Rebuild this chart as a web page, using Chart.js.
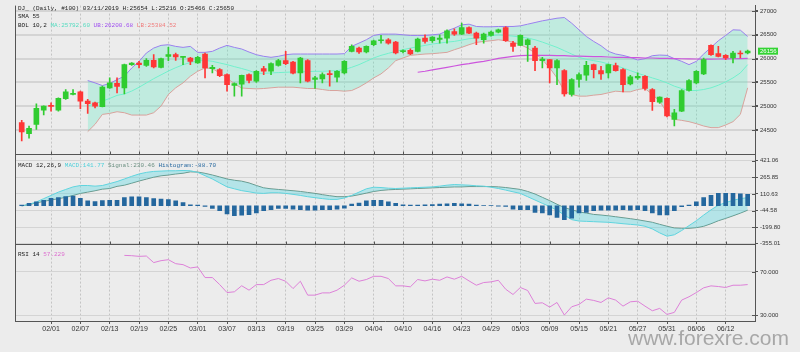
<!DOCTYPE html>
<html>
<head>
<meta charset="utf-8">
<script src="https://cdn.jsdelivr.net/npm/chart.js@4.4.1/dist/chart.umd.min.js"></script>
<style>
html, body { margin: 0; padding: 0; background: #ececec; }
canvas { display: block; }
</style>
</head>
<body>
<canvas id="chart" width="800" height="352"></canvas>
<script>
const dates = ["01/28","01/29","01/30","01/31","02/01","02/04","02/05","02/06","02/07","02/08",
    "02/11","02/12","02/13","02/14","02/15","02/18","02/19","02/20","02/21","02/22",
    "02/25","02/26","02/27","02/28","03/01","03/04","03/05","03/06","03/07","03/08",
    "03/11","03/12","03/13","03/14","03/15","03/18","03/19","03/20","03/21","03/22",
    "03/25","03/26","03/27","03/28","03/29","04/01","04/02","04/03","04/04","04/05",
    "04/08","04/09","04/10","04/11","04/12","04/15","04/16","04/17","04/18","04/22",
    "04/23","04/24","04/25","04/26","04/29","04/30","05/01","05/02","05/03","05/06",
    "05/07","05/08","05/09","05/10","05/13","05/14","05/15","05/16","05/17","05/20",
    "05/21","05/22","05/23","05/24","05/27","05/28","05/29","05/30","05/31","06/03",
    "06/04","06/05","06/06","06/07","06/10","06/11","06/12","06/13","06/14","06/17"];
const tickLabels = ["02/01","02/07","02/13","02/19","02/25","03/01","03/07","03/13","03/19","03/25",
    "03/29","04/04","04/10","04/16","04/23","04/29","05/03","05/09","05/15","05/21",
    "05/27","05/31","06/06","06/12"];

const opens = [24659,24430,24624,24922,25020,24922,25159,25250,25305,25110,
    25075,24992,25388,25485,25388,25874,25908,25860,25964,25818,
    26048,26082,26027,26013,25909,26096,25790,25770,25666,25437,
    25466,25666,25527,25791,25735,25860,25957,25930,25700,25957,
    25562,25575,25686,25610,25700,26152,26221,26138,26290,26374,
    26395,26346,26145,26172,26152,26430,26374,26402,26430,26568,
    26513,26652,26534,26395,26485,26555,26652,26325,26277,26290,
    26221,25957,25978,25805,25749,25249,25562,25652,25874,25749,
    25700,25853,25770,25471,25596,25631,25353,25089,25166,24728,
    24902,25332,25492,25680,26277,26103,26068,26013,26117,26117];
const highs = [24707,24589,25054,25010,25075,25180,25353,25353,25319,25145,
    25090,25423,25596,25596,25888,25915,25943,26000,26082,26013,
    26235,26117,26048,26027,26048,26117,25860,25790,25680,25492,
    25654,25680,25750,25839,25910,25985,26152,25943,26027,25978,
    25630,25700,25749,25750,25957,26290,26240,26270,26390,26485,
    26420,26360,26185,26207,26430,26499,26460,26499,26603,26624,
    26742,26665,26555,26534,26575,26620,26672,26360,26499,26415,
    26256,26027,25985,25978,25770,25582,25700,25943,25888,25839,
    25888,25909,25791,25650,25700,25645,25374,25200,25180,24937,
    25353,25562,25750,26013,26290,26256,26082,26152,26165,26180];
const lows = [24277,24332,24520,24820,24900,24902,25145,25240,24950,24853,
    24970,24990,25374,25284,25263,25860,25804,25839,25804,25804,
    25957,25964,25874,25874,25900,25596,25700,25620,25318,25214,
    25216,25492,25500,25666,25666,25840,25874,25680,25492,25513,
    25374,25492,25423,25513,25680,26138,26110,26120,26270,26325,
    26300,26096,26117,26082,26138,26325,26340,26325,26325,26485,
    26499,26520,26290,26325,26470,26540,26360,26152,26270,25943,
    25749,25804,25492,25457,25214,25214,25400,25541,25596,25562,
    25596,25735,25305,25450,25562,25339,24915,25060,24777,24589,
    24888,25318,25470,25666,26068,26034,25978,25909,26013,26100];
const closes = [24464,24541,24957,25006,25000,25166,25305,25270,25110,25055,
    25006,25402,25492,25416,25874,25908,25874,25964,25825,26000,
    26082,26034,26034,25943,26027,25804,25818,25645,25457,25478,
    25650,25541,25735,25735,25895,25957,25895,25693,26013,25527,
    25596,25666,25666,25735,25943,26256,26138,26256,26374,26395,
    26325,26117,26165,26096,26409,26360,26450,26430,26582,26513,
    26652,26534,26430,26513,26555,26603,26374,26256,26485,26395,
    25957,25992,25805,25957,25263,25562,25666,25860,25770,25680,
    25874,25749,25457,25617,25631,25374,25096,25193,24798,24867,
    25332,25541,25735,25978,26082,26048,26013,26117,26096,26156];

// Bollinger 10,2 begins on bar 9, SMA 55 on bar 54, RSI 14 on bar 14
const bandStart = 9;
const bandUpper = [25541,25492,25436,25478,25561,25631,25804,25943,26117,26221,
    26277,26291,26256,26235,26256,26131,26131,26152,26221,26277,
    26235,26201,26138,26082,26048,26027,26048,26082,26096,26096,
    26096,26096,26096,26096,26096,26103,26256,26325,26395,26485,
    26513,26513,26513,26499,26485,26485,26485,26499,26513,26582,
    26638,26707,26721,26673,26666,26666,26673,26673,26673,26686,
    26721,26756,26791,26818,26846,26860,26742,26603,26464,26360,
    26270,26152,26096,26068,26027,25971,25999,26061,26075,26068,
    25999,25943,25874,25943,26096,26235,26374,26485,26603,26596,
    26464];
const bandMiddle = [25006,25054,25110,25166,25230,25260,25320,25400,25490,25580,
    25660,25740,25810,25870,25920,25950,25964,25943,25909,25874,
    25832,25793,25749,25693,25693,25700,25707,25714,25721,25721,
    25728,25735,25735,25742,25749,25770,25818,25874,25943,26013,
    26068,26110,26152,26186,26221,26249,26277,26305,26325,26346,
    26360,26388,26416,26430,26450,26478,26499,26485,26471,26450,
    26430,26395,26346,26291,26235,26166,26096,26027,25985,25957,
    25930,25888,25853,25805,25749,25693,25645,25596,25548,25492,
    25423,25374,25332,25332,25353,25388,25443,25513,25596,25700,
    25874];
const bandLower = [24471,24624,24832,24853,24888,24867,24818,24818,24818,24867,
    25006,25249,25388,25492,25631,25735,25804,25791,25700,25596,
    25471,25385,25374,25367,25374,25388,25402,25402,25402,25388,
    25374,25374,25353,25332,25332,25318,25332,25402,25492,25596,
    25680,25804,25957,26013,26068,26082,26096,26103,26117,26131,
    26186,26235,26291,26339,26360,26374,26395,26374,26346,26291,
    26221,26117,25978,25805,25596,25318,25249,25214,25214,25235,
    25249,25284,25318,25305,25305,25353,25374,25249,25110,24867,
    24728,24707,24680,24638,24589,24555,24555,24610,24680,24832,
    25388];
const smaStart = 54;
const sma55 = [25714,25735,25763,25791,25818,25846,25874,25895,25923,25943,
    25971,26006,26027,26048,26061,26068,26068,26068,26068,26061,
    26061,26054,26054,26048,26041,26041,26034,26027,26027,26020,
    26020,26013,26013,26006,26006,26000,25997,25994,25992,25990,
    25990,25992,25994,25997,26000,26003];

const macdLine = [-1,14,36,67,97,128,153,177,190,190,
    184,190,208,227,251,276,298,313,322,325,
    328,328,331,328,313,282,251,214,177,159,
    141.8,131,119,116,122,122,116,107,97,85,
    76,67,60,60,73,97,128,159,174,171,
    165,162,165,168,171,174,177,184,193,199,
    196,193,187,184,174,162,147,131,116,85,
    54,23,-7,-41,-87,-130,-143,-146,-149,-152,
    -155,-161,-168,-174,-180,-192,-217,-254,-285,-272,
    -232,-186,-140,-87,-38,5,30,51,67,76];
const signalLine = [-1,11,27,42,54,67,79,97,116,128,
    141,156,162,182,193,212,232,250,268,281,
    288,298,305,318,316,304,288,270,251,239,
    230.5,214,190,168,159,153,147,141,134,125,
    116,104,94,85,85,91,104,119,134,144,
    150,153,156,159,162,165,168,171,174,177,
    177,180,180,180,180,177,171,162,153,134,
    110,79,48,14,-17,-38,-57,-69,-81,-87,
    -94,-103,-112,-121,-131,-143,-155,-174,-192,-208,
    -211,-211,-205,-192,-168,-140,-118,-94,-69,-41];
const histogram = [6,22,37,52,71,77,86,92,71,46,
    40,49,52,52,77,83,83,77,68,62,
    59,46,31,9,6,-6,-25,-46,-77,-92,
    -88.7,-83,-68,-46,-37,-25,-25,-31,-37,-40,
    -40,-37,-37,-31,-22,15,25,46,52,52,
    37,22,9,6,6,9,12,15,18,22,
    18,15,6,3,3,-3,-6,-31,-37,-37,
    -62,-68,-86,-108,-129,-117,-68,-62,-46,-40,
    -40,-40,-37,-40,-37,-46,-68,-86,-86,-46,
    -9,6,37,77,99,117,117,117,111,108];
const rsiStart = 14;
const rsi14 = [85.4,85.1,84.5,84.8,78.7,80.5,81.4,77.7,76.8,73.7,
    74.7,64.8,64.8,58.3,50.9,51.6,57.2,53.1,58.3,58.3,
    62.3,63.9,61.4,54.6,61.4,48.5,48.5,50.6,50.6,53.1,
    57.7,64.5,61.4,63.0,66.0,66.0,63.9,57.1,57.1,56.2,
    63.0,61.7,63.3,62.3,65.4,63.3,66.0,61.7,57.7,60.2,
    60.8,62.3,54.0,49.1,55.6,52.8,40.8,41.4,37.4,41.7,
    30.0,37.7,39.9,44.8,43.6,41.7,46.0,43.9,38.3,42.3,
    42.9,38.3,34.0,36.2,30.6,32.5,43.9,47.0,50.9,55.3,
    57.1,56.5,55.6,57.7,57.7,58.3];

const priceTicks = [24500, 25000, 25500, 26000, 26500, 27000];
const macdTicks = [421.06, 265.85, 110.63, -44.58, -199.80, -355.01];
const rsiTicks = [30, 70];

Chart.defaults.font.family = "'Liberation Sans', Arial, sans-serif";

const upColor = '#30cc30';
const downColor = '#ff3636';
const candleColors = closes.map((c, i) => c >= opens[i] ? upColor : downColor);
const points = (values, start) => values.map((v, k) => ({x: start + k, y: v}));
const wicks = lows.map((l, i) => ({x: i, y: [l, highs[i]]}));
const bodies = opens.map((o, i) => ({x: i, y: [Math.min(o, closes[i]), Math.max(o, closes[i])]}));

const bandFill = 'rgba(80, 232, 190, 0.28)';
const macdFill = 'rgba(90, 215, 225, 0.38)';

function fixedTicks(list) {
    return scale => { scale.ticks = list.map(v => ({value: v})); };
}
function rightAxis(weight, min, max, list, digits, gridWidth) {
    return {
        position: 'right',
        stack: 'panels',
        stackWeight: weight,
        min: min,
        max: max,
        beginAtZero: false,
        afterBuildTicks: fixedTicks(list),
        afterFit: scale => { scale.width = 45; },
        ticks: {
            callback: v => v.toFixed(digits),
            autoSkip: false,
            color: '#333',
            padding: 2,
            font: {size: 6}
        },
        grid: {color: '#d4d4d4', lineWidth: gridWidth, tickColor: '#555', tickLength: 3},
        border: {color: '#555'}
    };
}

const overlay = {
    id: 'overlay',
    afterDraw(chart) {
        const {ctx, chartArea: a, scales} = chart;
        const xs = scales.x;
        ctx.save();
        ctx.strokeStyle = '#555';
        ctx.lineWidth = 1;
        ctx.beginPath();
        ctx.moveTo(a.left + 0.5, a.top);
        ctx.lineTo(a.left + 0.5, a.bottom);
        [scales.yPrice.bottom, scales.yMacd.bottom].forEach(y => {
            const yy = Math.round(y) + 0.5;
            ctx.moveTo(a.left, yy);
            ctx.lineTo(a.right, yy);
            xs.ticks.forEach(t => {
                const px = Math.round(xs.getPixelForValue(t.value)) + 0.5;
                ctx.moveTo(px, yy - 3);
                ctx.lineTo(px, yy);
            });
        });
        // short marks just inside the right axis line
        [scales.yPrice, scales.yMacd, scales.yRsi].forEach(s => {
            s.ticks.forEach(t => {
                const py = Math.round(s.getPixelForValue(t.value)) + 0.5;
                ctx.moveTo(a.right - 3, py);
                ctx.lineTo(a.right, py);
            });
        });
        ctx.stroke();

        ctx.font = "6px 'Liberation Mono', monospace";
        ctx.textBaseline = 'middle';
        const write = (x, y, parts) => {
            parts.forEach(([text, color]) => {
                ctx.fillStyle = color;
                ctx.fillText(text, x, y);
                x += ctx.measureText(text).width;
            });
        };
        write(18, 8.5, [['DJ_ (Daily, #100) 03/11/2019 H:25654 L:25216 O:25466 C:25650', '#222']]);
        write(18, 16.5, [['SMA 55', '#222']]);
        write(18, 25.5, [['BOL 10,2 ', '#222'], ['MA:25792.60 ', '#55dcc0'],
            ['UB:26200.68 ', '#a050f0'], ['LB:25384.52', '#f07c7c']]);
        write(18, 165, [['MACD 12,26,9 ', '#222'], ['MACD:141.77 ', '#4fd0da'],
            ['Signal:230.46 ', '#6a8f80'], ['Histogram:-88.70', '#2a6aa0']]);
        write(18, 254.5, [['RSI 14 ', '#222'], ['57.229', '#dd70d0']]);

        const last = closes[closes.length - 1];
        const py = scales.yPrice.getPixelForValue(last);
        ctx.fillStyle = '#33d433';
        ctx.fillRect(758, py - 3.5, 20, 7);
        ctx.fillStyle = '#fff';
        ctx.font = "6px 'Liberation Sans', Arial";
        ctx.fillText(String(last), 760, py + 0.3);

        ctx.font = "21px 'Liberation Sans', Arial";
        ctx.fillStyle = 'rgba(150, 150, 150, 0.8)';
        ctx.textBaseline = 'alphabetic';
        ctx.fillText('www.forexre.com', 628, 345);
        ctx.restore();
    }
};

new Chart(document.getElementById('chart'), {
    type: 'bar',
    data: {
        datasets: [
            {type: 'line', label: 'UB', data: points(bandUpper, bandStart), yAxisID: 'yPrice',
                borderColor: '#9a80ee', borderWidth: 1, pointRadius: 0,
                fill: {target: 2, above: bandFill, below: bandFill}, order: 4},
            {type: 'line', label: 'MA', data: points(bandMiddle, bandStart), yAxisID: 'yPrice',
                borderColor: '#72f0cc', borderWidth: 1, pointRadius: 0, fill: false, order: 3},
            {type: 'line', label: 'LB', data: points(bandLower, bandStart), yAxisID: 'yPrice',
                borderColor: '#d8a29c', borderWidth: 1, pointRadius: 0, fill: false, order: 3},
            {type: 'line', label: 'SMA 55', data: points(sma55, smaStart), yAxisID: 'yPrice',
                borderColor: '#cc55dd', borderWidth: 1.2, pointRadius: 0, fill: false, order: 2},
            {type: 'bar', label: 'wick', data: wicks, yAxisID: 'yPrice',
                backgroundColor: candleColors, barThickness: 1, grouped: false, order: 1},
            {type: 'bar', label: 'body', data: bodies, yAxisID: 'yPrice',
                backgroundColor: candleColors, barThickness: 5, minBarLength: 1, grouped: false, order: 0},
            {type: 'line', label: 'MACD', data: points(macdLine, 0), yAxisID: 'yMacd',
                borderColor: '#5fd4de', borderWidth: 1, pointRadius: 0,
                fill: {target: 7, above: macdFill, below: macdFill}, order: 3},
            {type: 'line', label: 'Signal', data: points(signalLine, 0), yAxisID: 'yMacd',
                borderColor: '#6b8f80', borderWidth: 1, pointRadius: 0, fill: false, order: 3},
            {type: 'bar', label: 'Histogram', data: points(histogram, 0), yAxisID: 'yMacd',
                backgroundColor: '#24679e', barThickness: 4, grouped: false, order: 1},
            {type: 'line', label: 'RSI', data: points(rsi14, rsiStart), yAxisID: 'yRsi',
                borderColor: '#dd80d8', borderWidth: 1, pointRadius: 0, fill: false, order: 1}
        ]
    },
    options: {
        responsive: false,
        animation: false,
        events: [],
        layout: {padding: {left: 15, top: 4, right: 0, bottom: 0}},
        plugins: {
            legend: {display: false},
            tooltip: {enabled: false}
        },
        scales: {
            x: {
                type: 'linear',
                position: 'bottom',
                min: -0.915,
                max: 100,
                offset: false,
                afterFit: scale => { scale.height = 31; },
                afterBuildTicks: scale => {
                    scale.ticks = tickLabels.map(t => ({value: dates.indexOf(t)}));
                },
                ticks: {
                    callback: v => dates[v],
                    autoSkip: false,
                    maxRotation: 0,
                    color: '#333',
                    padding: 1,
                    font: {size: 7}
                },
                grid: {color: '#c4c4c4', offset: false, tickColor: '#555', tickLength: 3},
                border: {color: '#555', dash: [2, 2]}
            },
            yPrice: rightAxis(149, 24006, 27110, priceTicks, 0, 2),
            yMacd: rightAxis(91, -361.7, 486.6, macdTicks, 2, 1),
            yRsi: rightAxis(77, 24.5, 95.6, rsiTicks, 3, 1)
        }
    },
    plugins: [overlay]
});
</script>
</body>
</html>
